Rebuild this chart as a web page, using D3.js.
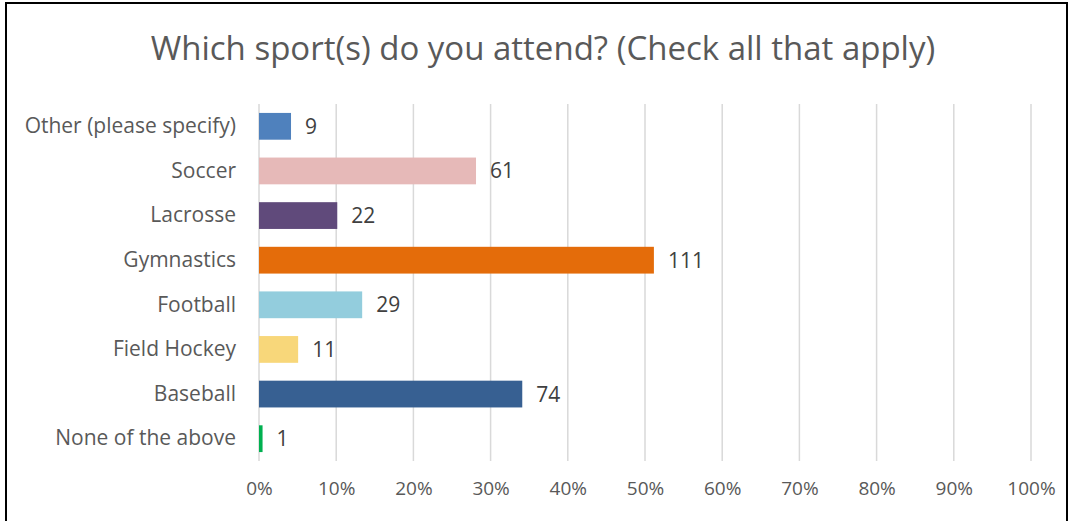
<!DOCTYPE html>
<html><head><meta charset="utf-8">
<script src="https://cdn.jsdelivr.net/npm/d3@7"></script>
<style>body{margin:0;background:#fff}svg{display:block}</style>
</head><body>
<svg id="c" width="1073" height="521"></svg>
<script>
const categories = ["Other (please specify)","Soccer","Lacrosse","Gymnastics","Football","Field Hockey","Baseball","None of the above"];
const counts = [9,61,22,111,29,11,74,1];
const colors = ["#4F81BD","#E6B9B8","#604A7B","#E46C0A","#93CDDD","#F8D77A","#376092","#00B050"];
const totalRespondents = 217;
const tickValues = [0,0.1,0.2,0.3,0.4,0.5,0.6,0.7,0.8,0.9,1.0];
const title = "Which sport(s) do you attend? (Check all that apply)";

const svg = d3.select("#c");
const font = "'Open Sans', Calibri, sans-serif";
// frame
svg.append("rect").attr("x",6).attr("y",3).attr("width",1061).attr("height",530)
  .attr("fill","none").attr("stroke","#000").attr("stroke-width",2);

svg.append("text").attr("x",543).attr("y",60).attr("text-anchor","middle")
  .attr("font-family",font).attr("font-size",33).attr("fill","#595959").text(title);

const x = d3.scaleLinear().domain([0,1]).range([259,1031]);
const y = d3.scaleBand().domain(categories).range([104,461]).paddingInner(0.4).paddingOuter(0.2);

// grid
svg.append("g").selectAll("line").data(tickValues).join("line")
  .attr("x1",d=>x(d)).attr("x2",d=>x(d)).attr("y1",104).attr("y2",461)
  .attr("stroke","#d9d9d9").attr("stroke-width",1.5);

// x axis labels
const xa = svg.append("g").attr("transform","translate(0,461)")
  .call(d3.axisBottom(x).tickValues(tickValues).tickFormat(d3.format(".0%")).tickSize(0).tickPadding(21));
xa.select(".domain").remove();
xa.selectAll("text").attr("font-family",font).attr("font-size",19).attr("fill","#595959");

// y axis labels
const ya = svg.append("g").attr("transform","translate(259,0)")
  .call(d3.axisLeft(y).tickSize(0).tickPadding(23));
ya.select(".domain").remove();
ya.selectAll("text").attr("font-family",font).attr("font-size",21).attr("fill","#595959");

const data = categories.map((c,i)=>({c, v:counts[i], col:colors[i]}));
svg.append("g").selectAll("rect").data(data).join("rect")
  .attr("x",x(0)).attr("y",d=>y(d.c)).attr("height",y.bandwidth())
  .attr("width",d=>x(d.v/totalRespondents)-x(0)).attr("fill",d=>d.col);

svg.append("g").selectAll("text").data(data).join("text")
  .attr("x",d=>x(d.v/totalRespondents)+14).attr("y",d=>y(d.c)+y.bandwidth()/2)
  .attr("dy","0.36em").attr("font-family",font).attr("font-size",21).attr("fill","#404040")
  .text(d=>d.v);
</script>
</body></html>
